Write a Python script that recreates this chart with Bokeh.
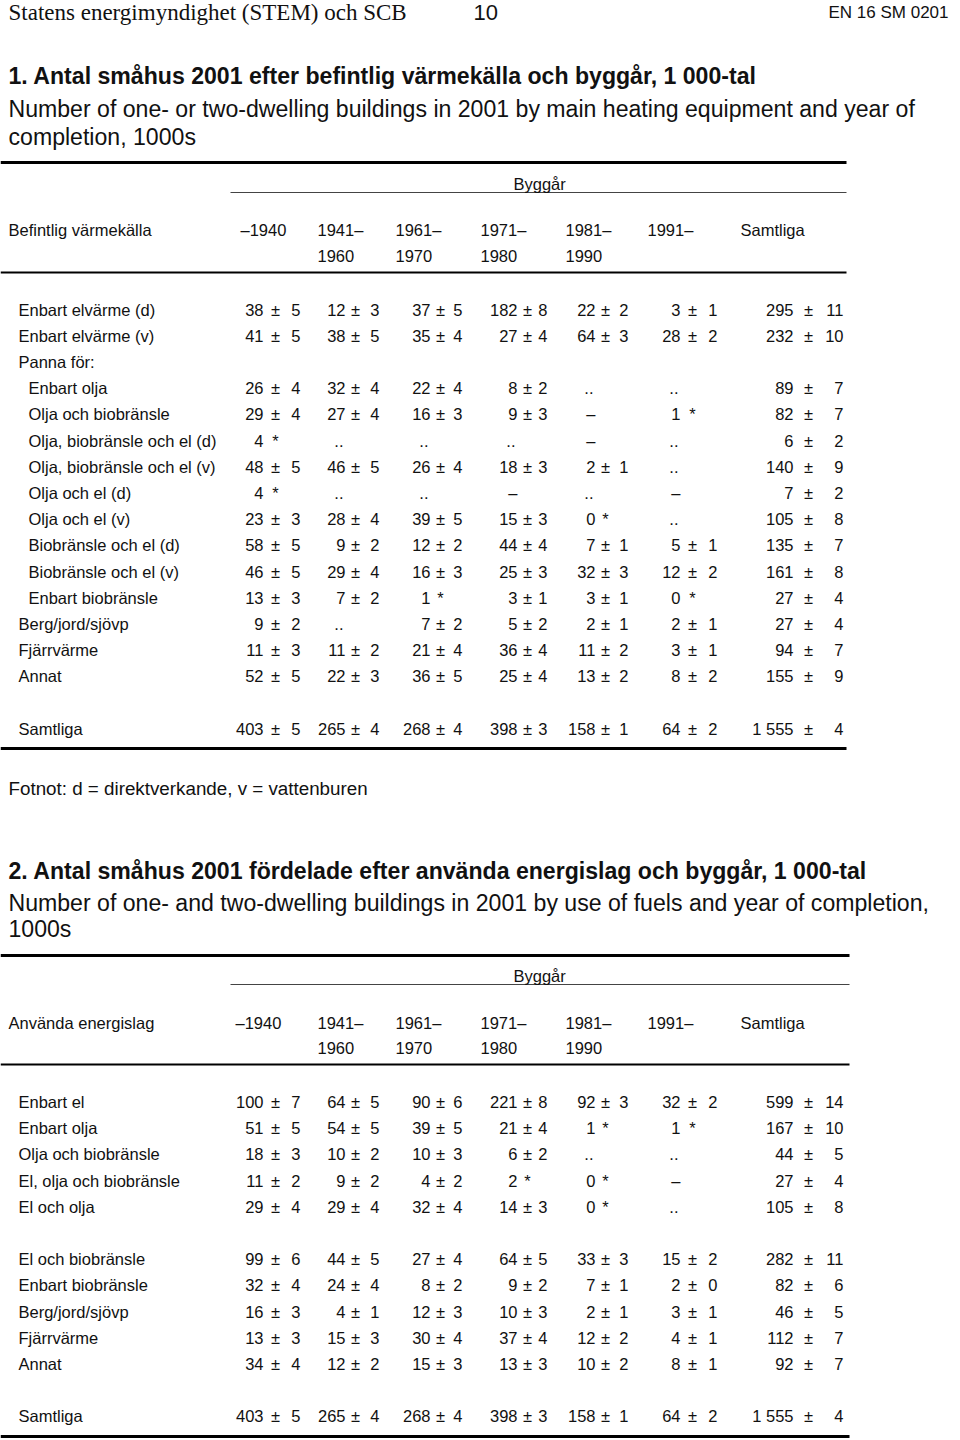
from bokeh.plotting import figure
from bokeh.models import Range1d, ColumnDataSource
from bokeh.core.properties import value
from bokeh.embed import file_html
from bokeh.resources import INLINE

# ---------------- DATA ----------------
period_top = ["–1940", "1941–", "1961–", "1971–", "1981–", "1991–", "Samtliga"]
period_bottom = ["", "1960", "1970", "1980", "1990", "", ""]

# Table 1: main heating equipment
t1_labels = ["Enbart elvärme (d)", "Enbart elvärme (v)", "Panna för:", "Enbart olja",
             "Olja och biobränsle", "Olja, biobränsle och el (d)", "Olja, biobränsle och el (v)",
             "Olja och el (d)", "Olja och el (v)", "Biobränsle och el (d)", "Biobränsle och el (v)",
             "Enbart biobränsle", "Berg/jord/sjövp", "Fjärrvärme", "Annat", "", "Samtliga"]
t1_panna_sub = ["Enbart olja", "Olja och biobränsle", "Olja, biobränsle och el (d)",
                "Olja, biobränsle och el (v)", "Olja och el (d)", "Olja och el (v)",
                "Biobränsle och el (d)", "Biobränsle och el (v)", "Enbart biobränsle"]
t1_1940 = ["38±5", "41±5", "", "26±4", "29±4", "4*", "48±5", "4*", "23±3", "58±5", "46±5",
           "13±3", "9±2", "11±3", "52±5", "", "403±5"]
t1_1941_1960 = ["12±3", "38±5", "", "32±4", "27±4", "..", "46±5", "..", "28±4", "9±2", "29±4",
                "7±2", "..", "11±2", "22±3", "", "265±4"]
t1_1961_1970 = ["37±5", "35±4", "", "22±4", "16±3", "..", "26±4", "..", "39±5", "12±2", "16±3",
                "1*", "7±2", "21±4", "36±5", "", "268±4"]
t1_1971_1980 = ["182±8", "27±4", "", "8±2", "9±3", "..", "18±3", "–", "15±3", "44±4", "25±3",
                "3±1", "5±2", "36±4", "25±4", "", "398±3"]
t1_1981_1990 = ["22±2", "64±3", "", "..", "–", "–", "2±1", "..", "0*", "7±1", "32±3",
                "3±1", "2±1", "11±2", "13±2", "", "158±1"]
t1_1991 = ["3±1", "28±2", "", "..", "1*", "..", "..", "–", "..", "5±1", "12±2",
           "0*", "2±1", "3±1", "8±2", "", "64±2"]
t1_total = ["295±11", "232±10", "", "89±7", "82±7", "6±2", "140±9", "7±2", "105±8", "135±7",
            "161±8", "27±4", "27±4", "94±7", "155±9", "", "1 555±4"]

# Table 2: use of fuels
t2_labels = ["Enbart el", "Enbart olja", "Olja och biobränsle", "El, olja och biobränsle",
             "El och olja", "", "El och biobränsle", "Enbart biobränsle", "Berg/jord/sjövp",
             "Fjärrvärme", "Annat", "", "Samtliga"]
t2_1940 = ["100±7", "51±5", "18±3", "11±2", "29±4", "", "99±6", "32±4", "16±3", "13±3", "34±4", "", "403±5"]
t2_1941_1960 = ["64±5", "54±5", "10±2", "9±2", "29±4", "", "44±5", "24±4", "4±1", "15±3", "12±2", "", "265±4"]
t2_1961_1970 = ["90±6", "39±5", "10±3", "4±2", "32±4", "", "27±4", "8±2", "12±3", "30±4", "15±3", "", "268±4"]
t2_1971_1980 = ["221±8", "21±4", "6±2", "2*", "14±3", "", "64±5", "9±2", "10±3", "37±4", "13±3", "", "398±3"]
t2_1981_1990 = ["92±3", "1*", "..", "0*", "0*", "", "33±3", "7±1", "2±1", "12±2", "10±2", "", "158±1"]
t2_1991 = ["32±2", "1*", "..", "–", "..", "", "15±2", "2±0", "3±1", "4±1", "8±1", "", "64±2"]
t2_total = ["599±14", "167±10", "44±5", "27±4", "105±8", "", "282±11", "82±6", "46±5", "112±7",
            "92±7", "", "1 555±4"]

t1_columns = [t1_1940, t1_1941_1960, t1_1961_1970, t1_1971_1980, t1_1981_1990, t1_1991, t1_total]
t2_columns = [t2_1940, t2_1941_1960, t2_1961_1970, t2_1971_1980, t2_1981_1990, t2_1991, t2_total]

# ---------------- LAYOUT ----------------
VX = [263, 345, 430, 517, 595, 680, 793]   # value right edge
PX = [275, 355, 440, 527, 605, 692, 808]   # ± / * centre
EX = [300, 379, 462, 547, 628, 717, 843]   # error right edge
HX = [240, 317, 395, 480, 565, 647, 740]   # header left edge
FS = 16.5
STEP = 26.2
INK = "#111111"
SANS = "Liberation Sans"
W, H = 952, 1438

p = figure(width=W, height=H, x_range=Range1d(0, W), y_range=Range1d(H, 0),
           output_backend="svg", toolbar_location=None, min_border=0,
           x_axis_location=None, y_axis_location=None)
p.grid.visible = False
p.outline_line_color = None
p.background_fill_color = "white"
p.border_fill_color = "white"

groups = {}


def put(x, y, t, align="left", size=FS, font=SANS, style="normal"):
    key = (align, size, font, style)
    g = groups.setdefault(key, {"x": [], "y": [], "t": []})
    g["x"].append(x)
    g["y"].append(y)
    g["t"].append(t)


def cell(ci, yc, c):
    if not c:
        return
    if "±" in c:
        v, e = c.split("±")
        put(VX[ci], yc, v, "right")
        put(PX[ci], yc, "±", "center")
        put(EX[ci], yc, e, "right")
    elif c.endswith("*"):
        put(VX[ci], yc, c[:-1], "right")
        put(PX[ci], yc, "*", "center")
    elif c == "..":
        put(VX[ci] - 2, yc, c, "right")
    else:
        put(VX[ci], yc, c, "right")


def table(label_head, labels, columns, first_x, sub, y_byggar, y_h1, y_h2, y_row0):
    put(513, y_byggar, "Byggår")
    put(8, y_h1, label_head)
    for i, (a, b) in enumerate(zip(period_top, period_bottom)):
        hx = first_x if i == 0 else HX[i]
        put(hx, y_h1, a)
        if b:
            put(hx, y_h2, b)
    for r, lab in enumerate(labels):
        yc = y_row0 + r * STEP
        if lab:
            put(28 if lab in sub else 18, yc, lab)
        for ci, col in enumerate(columns):
            cell(ci, yc, col[r])


# page header (y = visual centre of capitals)
put(8, 12, "Statens energimyndighet (STEM) och SCB", size=23, font="Liberation Serif")
put(473, 12, "10", size=22)
put(948, 12, "EN 16 SM 0201", "right", size=17)

# table 1
put(8, 75, "1. Antal småhus 2001 efter befintlig värmekälla och byggår, 1 000-tal", size=23.1, style="bold")
put(8, 108, "Number of one- or two-dwelling buildings in 2001 by main heating equipment and year of", size=23.1)
put(8, 136, "completion, 1000s", size=23.1)
table("Befintlig värmekälla", t1_labels, t1_columns, 240, t1_panna_sub, 183, 229, 255, 309)
put(8, 788, "Fotnot: d = direktverkande, v = vattenburen", size=18.8)

# table 2
put(8, 870, "2. Antal småhus 2001 fördelade efter använda energislag och byggår, 1 000-tal", size=23.1, style="bold")
put(8, 902, "Number of one- and two-dwelling buildings in 2001 by use of fuels and year of completion,", size=23.1)
put(8, 928, "1000s", size=23.1)
table("Använda energislag", t2_labels, t2_columns, 235, [], 975, 1022, 1047, 1101.5)

# rules
rules = dict(x0=[0, 230, 0, 0, 0, 230, 0, 0],
             x1=[846, 846, 846, 846, 849, 849, 849, 849],
             y=[162, 192, 272, 748, 955, 984, 1064, 1436],
             w=[3, 1, 2, 3, 3, 1, 2, 3],
             c=["#000", "#444", "#000", "#000", "#000", "#444", "#000", "#000"])
p.segment(x0="x0", y0="y", x1="x1", y1="y", line_width="w", line_color="c",
          source=ColumnDataSource(rules))

for (align, size, font, style), g in groups.items():
    p.text(x="x", y="y", text="t", source=ColumnDataSource(dict(x=g["x"], y=g["y"], t=g["t"])),
           text_align=align, text_baseline="alphabetic", text_font=value(font),
           text_font_size=value(f"{size}px"), text_font_style=style, text_color=INK)

open("out.html", "w").write(file_html(p, INLINE))
